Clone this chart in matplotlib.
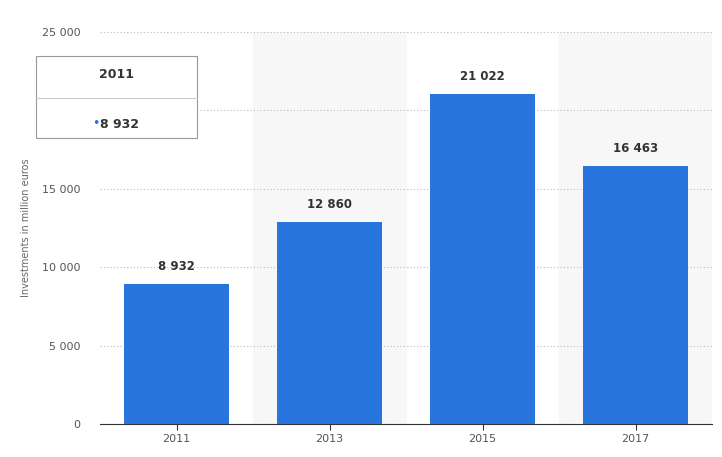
import matplotlib
matplotlib.use("Agg")
import matplotlib.pyplot as plt
from matplotlib.patches import FancyBboxPatch

years = ["2011", "2013", "2015", "2017"]
values = [8932, 12860, 21022, 16463]
yticks = [0, 5000, 10000, 15000, 20000, 25000]

def fmt(v):
    return f"{v:,}".replace(",", " ")

fig = plt.figure(figsize=(7.22, 4.57), dpi=100)
ax = fig.add_axes([100/722, 33/457, 612/722, 392/457])
x = range(len(years))
for i in x:
    if i % 2 == 1:
        ax.axvspan(i - 0.5, i + 0.5, color="#f7f7f7", zorder=0)
ax.bar(x, values, width=0.69, color="#2876dd", zorder=3)
for i, v in zip(x, values):
    ax.text(i, v + 700, fmt(v), ha="center", va="bottom", fontsize=8.5,
            fontweight="bold", color="#333333", zorder=4)
ax.set_xlim(-0.5, len(years) - 0.5)
ax.set_ylim(0, 25000)
ax.set_yticks(yticks)
ax.set_yticklabels([fmt(t) for t in yticks], fontsize=8, color="#555555")
ax.set_xticks(list(x))
ax.set_xticklabels(years, fontsize=8, color="#555555")
ax.yaxis.grid(True, linestyle=(0, (1, 2)), color="#bbbbbb", linewidth=0.8, zorder=1)
for s in ["top", "right", "left"]:
    ax.spines[s].set_visible(False)
ax.spines["bottom"].set_color("#333333")
ax.tick_params(axis="y", length=0, pad=14)
ax.tick_params(axis="x", length=4, color="#333333")
ax.set_ylabel("Investments in million euros", fontsize=7, color="#666666", labelpad=8)

# tooltip
box = FancyBboxPatch((36/722, 1 - 138/457), 161/722, 82/457,
                     boxstyle="square,pad=0", transform=fig.transFigure,
                     facecolor="white", edgecolor="#999999", linewidth=0.8, zorder=10)
fig.add_artist(box)
fig.add_artist(plt.Line2D([36/722, 197/722], [1 - 98/457, 1 - 98/457],
                          transform=fig.transFigure, color="#cccccc", linewidth=0.8, zorder=11))
fig.text(116/722, 1 - 75/457, "2011", ha="center", va="center", fontsize=9,
         fontweight="bold", color="#333333", zorder=12)
fig.text(96/722, 1 - 124/457, "•", ha="center", va="center", fontsize=9,
         color="#2876dd", zorder=12)
fig.text(120/722, 1 - 124/457, fmt(values[0]), ha="center", va="center", fontsize=9,
         fontweight="bold", color="#333333", zorder=12)

fig.savefig("out.png", dpi=100)
